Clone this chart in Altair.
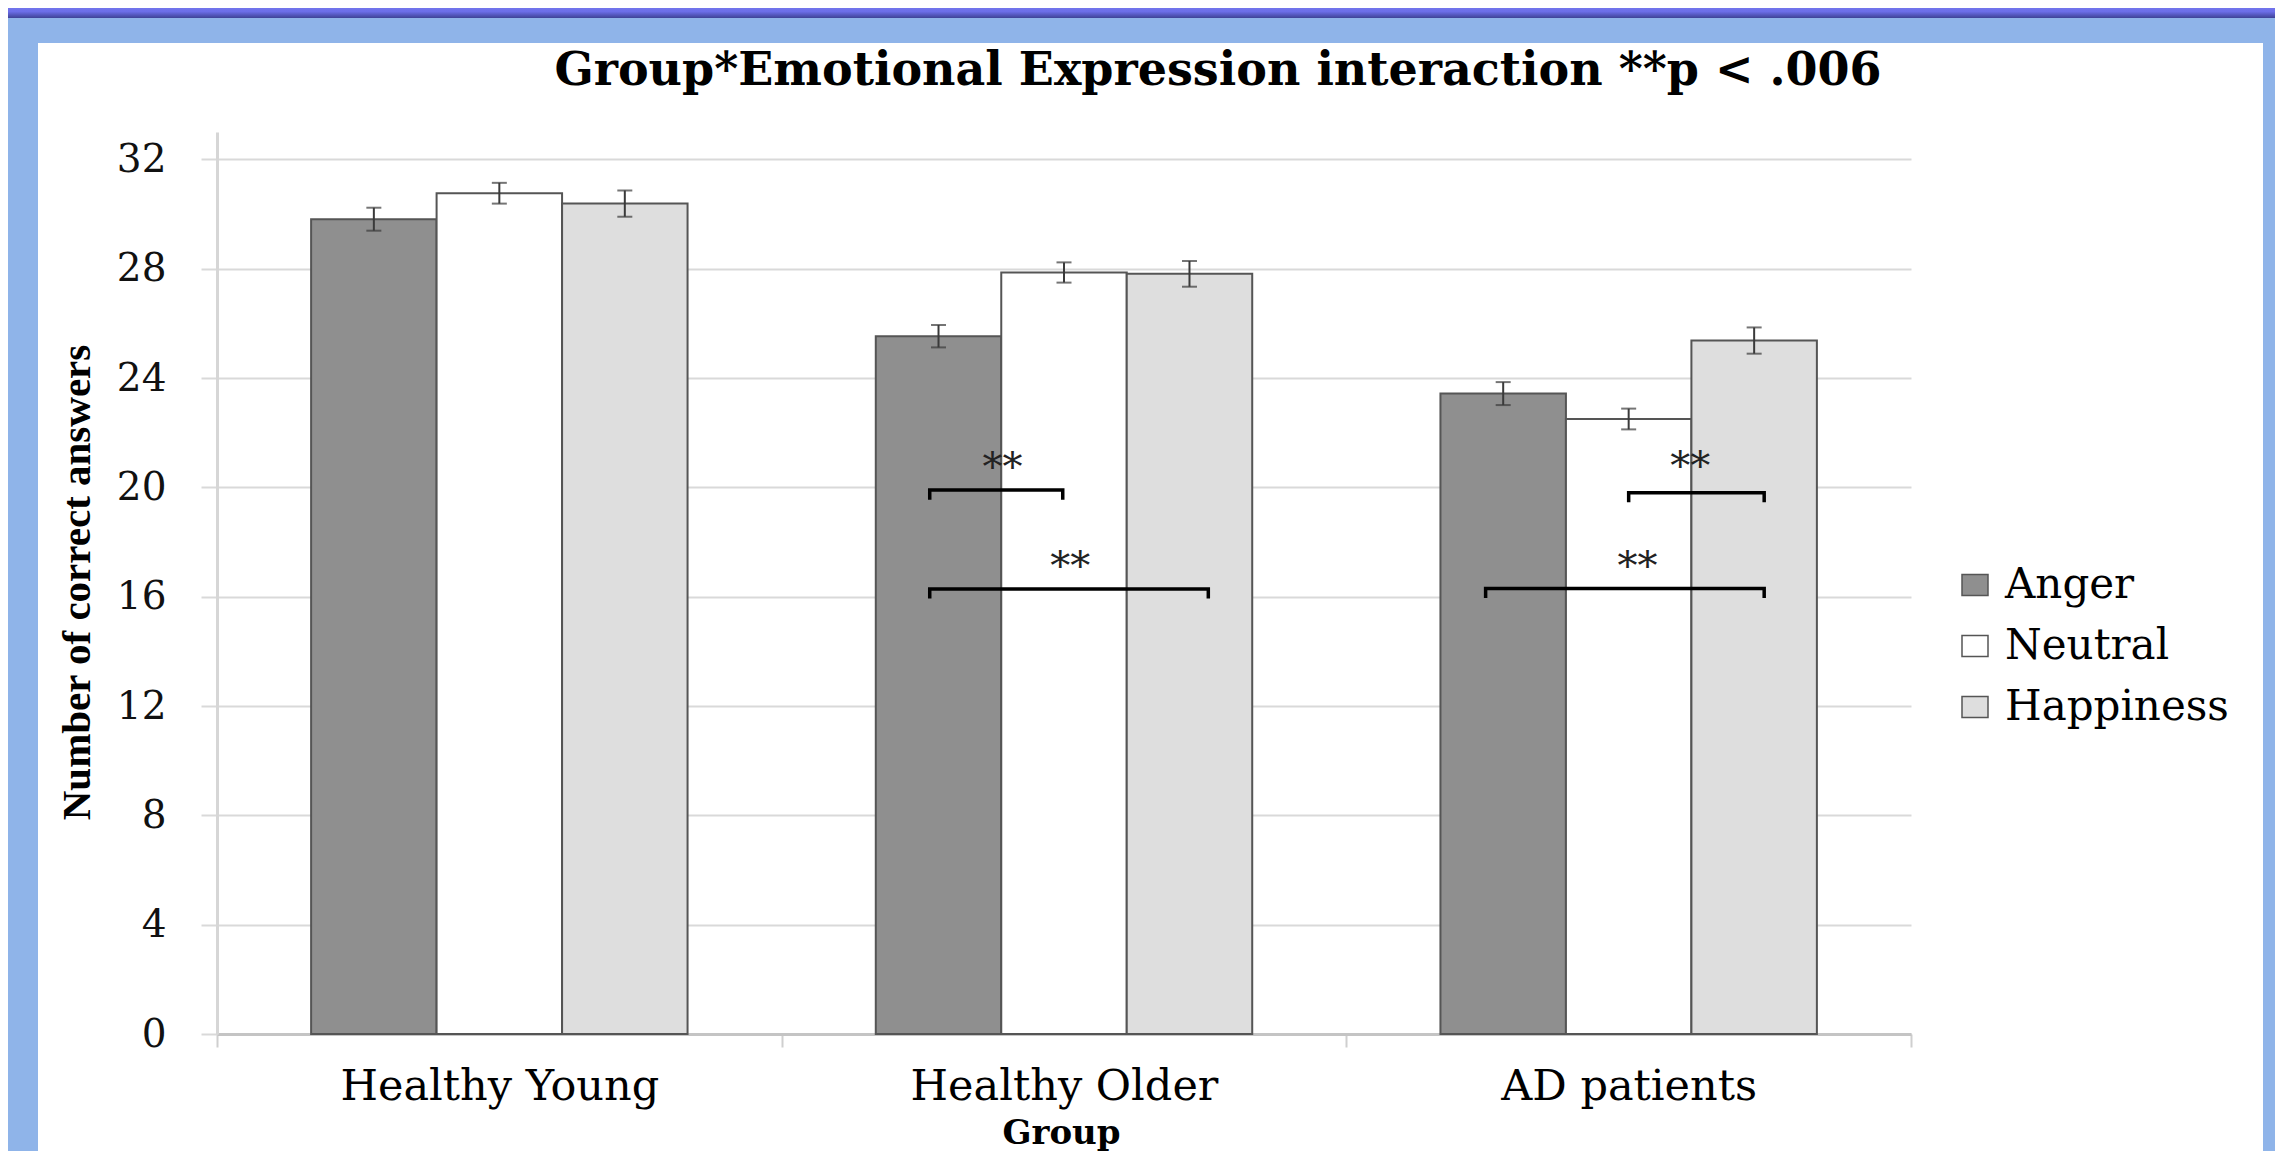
import altair as alt
import pandas as pd

# ---------------- data ----------------
groups = ["Healthy Young", "Healthy Older", "AD patients"]
emotions = ["Anger", "Neutral", "Happiness"]
anger = [29.81, 25.53, 23.43]
neutral = [30.76, 27.86, 22.50]
happiness = [30.38, 27.81, 25.37]
anger_err = [0.42, 0.41, 0.42]
neutral_err = [0.38, 0.37, 0.38]
happiness_err = [0.48, 0.47, 0.48]
fills = ["#8f8f8f", "#ffffff", "#dedede"]

# significance brackets (positions in "bar units" inside the group, 0..3)
br_group = ["Healthy Older", "Healthy Older", "AD patients", "AD patients"]
br_start = [0.43, 0.43, 1.50, 0.36]
br_end = [1.49, 2.65, 2.58, 2.58]
br_level = [19.9, 16.28, 19.8, 16.3]
star_pos = [1.01, 1.55, 1.99, 1.57]
star_level = [20.7, 17.1, 20.74, 17.1]
star_text = ["**", "**", "**", "**"]

y_ticks = [0, 4, 8, 12, 16, 20, 24, 28, 32]
y_max = 33
title_text = "Group*Emotional Expression interaction **p < .006"
y_title = "Number of correct answers"
x_title = "Group"

# ---------------- tables ----------------
rows = []
for gi, g in enumerate(groups):
    for e, vals, errs in zip(emotions, [anger, neutral, happiness],
                             [anger_err, neutral_err, happiness_err]):
        rows.append({"group": g, "emotion": e, "value": vals[gi], "err": errs[gi]})
bars_df = pd.DataFrame(rows)

TICK = 0.35
br_rows = []
for i in range(len(br_group)):
    pts = [(br_start[i], br_level[i] - TICK), (br_start[i], br_level[i]),
           (br_end[i], br_level[i]), (br_end[i], br_level[i] - TICK)]
    for k, (p, yv) in enumerate(pts):
        br_rows.append({"bid": i, "group": br_group[i], "pos": p, "yv": yv, "ord": k})
br_df = pd.DataFrame(br_rows)
star_df = pd.DataFrame({"group": br_group, "pos": star_pos, "level": star_level,
                        "txt": star_text})

SERIF = "DejaVu Serif"
PAD = 0.75  # outer padding of the three bars inside each group (in bar widths)

x_axis = alt.Axis(
    title=x_title, titleFont=SERIF, titleFontSize=34, titleFontWeight="bold",
    titleColor="#000000", titleX=844, titleY=109, titleBaseline="alphabetic",
    titleAlign="center",
    labelFont=SERIF, labelFontSize=43, labelColor="#000000", labelAngle=0,
    labelBaseline="alphabetic", labelPadding=52, labelLimit=0,
    tickBand="extent", tickSize=13, tickColor="#cfcfcf", tickWidth=2,
    domainColor="#c4c4c4", domainWidth=3, grid=False,
)
y_axis = alt.Axis(
    title=y_title, titleFont="Liberation Serif", titleFontSize=41,
    titleFontWeight="bold", titleColor="#000000", titleAngle=270,
    titleX=-140, titleY=450, titleAlign="center", titleBaseline="middle",
    values=y_ticks, labelFont=SERIF, labelFontSize=39, labelColor="#111111",
    labelPadding=35, tickSize=16, tickColor="#d9d9d9", tickWidth=2,
    domainColor="#d6d6d6", domainWidth=3, gridColor="#d9d9d9", gridWidth=2,
)
x_scale = alt.Scale(paddingInner=0, paddingOuter=0)
y_scale = alt.Scale(domain=[0, y_max], nice=False)

X = alt.X("group:N", sort=groups, scale=x_scale, axis=x_axis)
XO = alt.XOffset("emotion:N", sort=emotions,
                 scale=alt.Scale(paddingInner=0, paddingOuter=PAD))
XOQ = alt.XOffset("pos:Q", scale=alt.Scale(domain=[-PAD, 3 + PAD], nice=False, zero=False))


def Y(field):
    return alt.Y(f"{field}:Q", scale=y_scale, axis=y_axis)


one = alt.Data(values=[{}])

# decorative slide background around the white panel
left_strip = alt.Chart(one).mark_rect(color="#8fb4e9").encode(
    x=alt.value(-215), x2=alt.value(-179), y=alt.value(-130), y2=alt.value(1100))
right_strip = alt.Chart(one).mark_rect(color="#8fb4e9").encode(
    x=alt.value(2046), x2=alt.value(2200), y=alt.value(-130), y2=alt.value(1100))
top_band = alt.Chart(one).mark_rect(color="#8fb4e9").encode(
    x=alt.value(-215), x2=alt.value(2200), y=alt.value(-130), y2=alt.value(-89))
top_strip = alt.Chart(one).mark_rect(
    color={"x1": 0, "y1": 0, "x2": 0, "y2": 1, "gradient": "linear",
           "stops": [{"offset": 0, "color": "#7c7ef3"},
                     {"offset": 0.6, "color": "#6c6ee8"},
                     {"offset": 1, "color": "#3e4296"}]}
).encode(x=alt.value(-215), x2=alt.value(2200), y=alt.value(-130), y2=alt.value(-114))

bars = alt.Chart(bars_df).mark_bar(stroke="#555555", strokeWidth=2).encode(
    x=X, xOffset=XO, y=Y("value"),
    fill=alt.Fill("emotion:N", sort=emotions,
                  scale=alt.Scale(domain=emotions, range=fills),
                  legend=alt.Legend(
                      title=None, orient="none", legendX=1737, legendY=432,
                      labelFont=SERIF, labelFontSize=42, labelColor="#000000",
                      labelOffset=9, rowPadding=19, labelLimit=0,
                      symbolType="M-1,-0.8H1V0.8H-1Z", symbolSize=676,
                      symbolStrokeColor="#555555", symbolStrokeWidth=1.5)),
)

err_base = alt.Chart(bars_df).transform_calculate(
    lo="datum.value - datum.err", hi="datum.value + datum.err")
err_rule = err_base.mark_rule(color="#3a3a3a", strokeWidth=2).encode(
    x=X, xOffset=XO, y=Y("lo"), y2="hi:Q")
err_caps = err_base.transform_fold(["lo", "hi"], as_=["cap", "capval"]).mark_tick(
    color="#3a3a3a", orient="horizontal", size=15, thickness=2).encode(
    x=X, xOffset=XO, y=Y("capval"))

brackets = alt.Chart(br_df).mark_line(color="#000000", strokeWidth=3.5,
                                      strokeJoin="miter").encode(
    x=X, xOffset=XOQ, y=Y("yv"), detail="bid:N", order="ord:Q")
stars = alt.Chart(star_df).mark_text(font=SERIF, fontSize=40, color="#222222",
                                     baseline="middle", align="center").encode(
    x=X, xOffset=XOQ, y=Y("level"), text="txt:N")

title = alt.Chart(one).mark_text(
    text=title_text, font=SERIF, fontSize=46, fontWeight="bold", color="#000000",
    align="center", baseline="alphabetic").encode(x=alt.value(1001), y=alt.value(-47))

chart = alt.layer(
    left_strip, right_strip, top_band, top_strip,
    bars, err_rule, err_caps, brackets, stars, title,
).resolve_scale(xOffset="independent").properties(
    width=1694, height=902,
    padding={"left": 209, "top": 124, "right": 364, "bottom": 117},
    autosize=alt.AutoSizeParams(type="none"),
    background="#ffffff",
).configure_view(stroke=None)

chart.save("out.html", embed_options={"renderer": "svg", "actions": False})
